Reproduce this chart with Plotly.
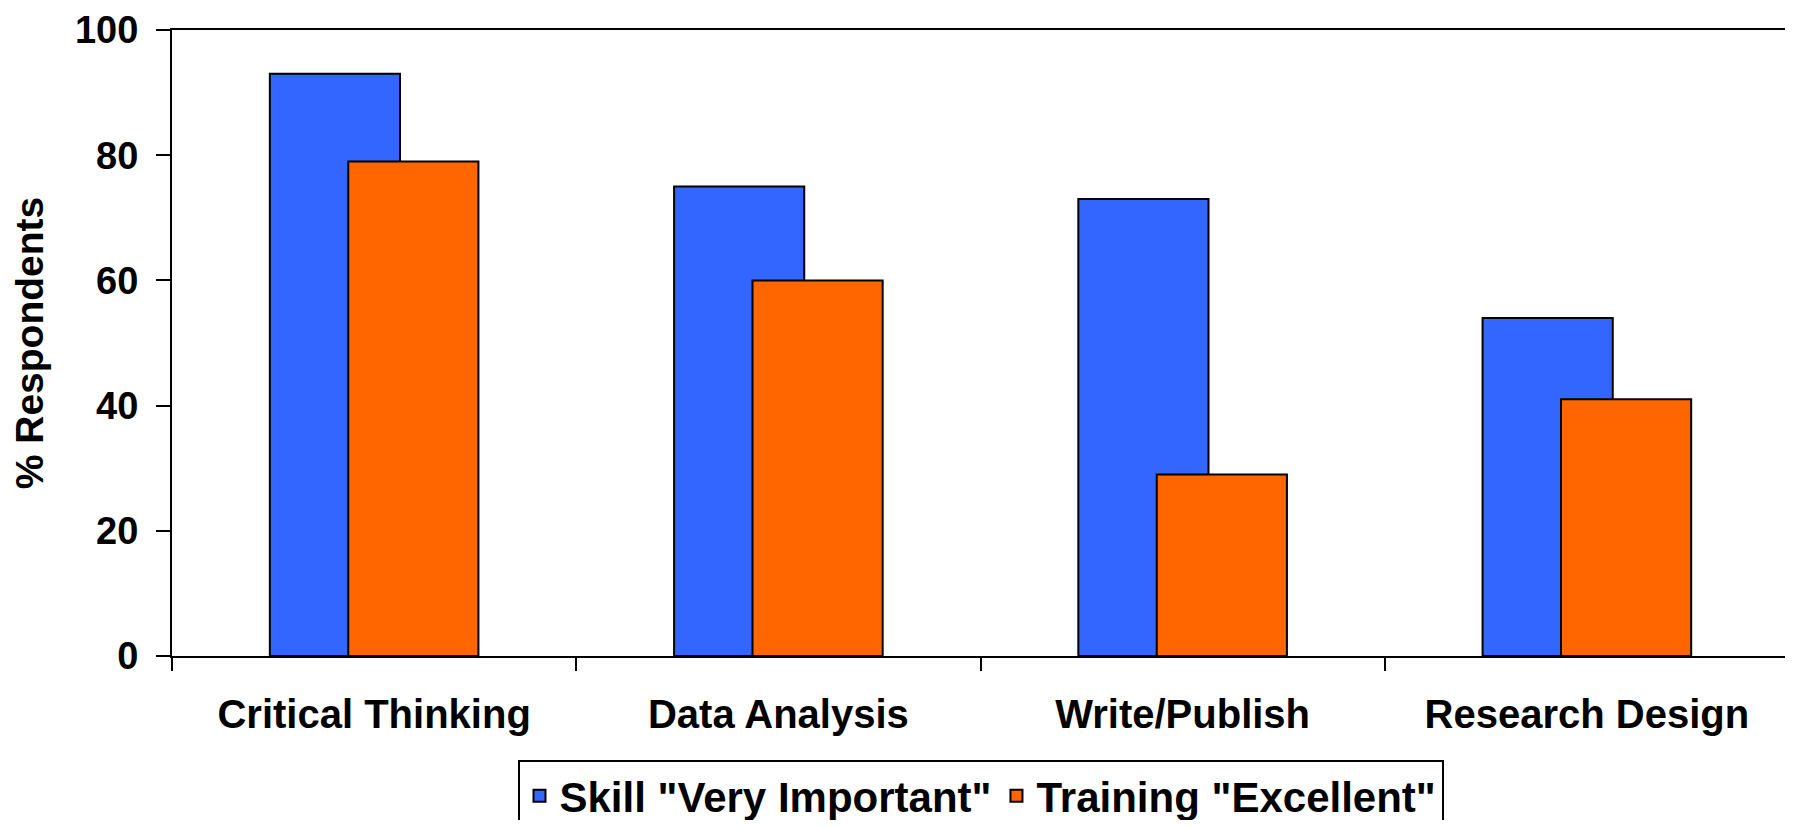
import plotly.graph_objects as go

categories = ["Critical Thinking", "Data Analysis", "Write/Publish", "Research Design"]
skill_very_important = [93, 75, 73, 54]
training_excellent = [79, 60, 29, 41]
series_names = ['Skill "Very Important"', 'Training "Excellent"']
y_ticks = [0, 20, 40, 60, 80, 100]

FONT = "Liberation Sans, Arial, sans-serif"
BLUE = "#3366FF"
ORANGE = "#FF6600"

fig = go.Figure()
fig.add_trace(go.Bar(
    x=categories, y=skill_very_important, name=series_names[0],
    width=0.322, offset=-0.258,
    marker=dict(color=BLUE, line=dict(color="black", width=2)),
))
fig.add_trace(go.Bar(
    x=categories, y=training_excellent, name=series_names[1],
    width=0.322, offset=-0.064,
    marker=dict(color=ORANGE, line=dict(color="black", width=2)),
))

fig.update_layout(
    width=1785, height=812,
    margin=dict(l=164, r=4, t=22, b=164, autoexpand=False),
    paper_bgcolor="white", plot_bgcolor="white",
    barmode="overlay",
    font=dict(family=FONT, color="black", size=38, weight="bold"),
    showlegend=True,
    legend=dict(
        orientation="h", x=0.5, xanchor="center", y=-0.166, yanchor="top",
        bordercolor="black", borderwidth=2, bgcolor="white",
        font=dict(family=FONT, size=42, color="black", weight="bold"),
        traceorder="normal",
    ),
    xaxis=dict(
        type="category", range=[-0.5, 3.5],
        showline=True, linecolor="black", linewidth=2, mirror=True,
        ticks="outside", tickson="boundaries", ticklen=13, tickwidth=2, tickcolor="black",
        ticklabelstandoff=22,
        tickfont=dict(family=FONT, size=40, color="black", weight="bold"),
        showgrid=False, zeroline=False,
    ),
    yaxis=dict(
        range=[0, 100], tickvals=y_ticks,
        showline=True, linecolor="black", linewidth=2, mirror=True,
        ticks="outside", ticklen=14, tickwidth=2, tickcolor="black",
        ticklabelstandoff=10, ticklabeloverflow="allow",
        tickfont=dict(family=FONT, size=38, color="black", weight="bold"),
        showgrid=False, zeroline=False,
        title=dict(text="% Respondents", standoff=21,
                   font=dict(family=FONT, size=39, color="black", weight="bold")),
    ),
)

fig.write_html("out.html")
